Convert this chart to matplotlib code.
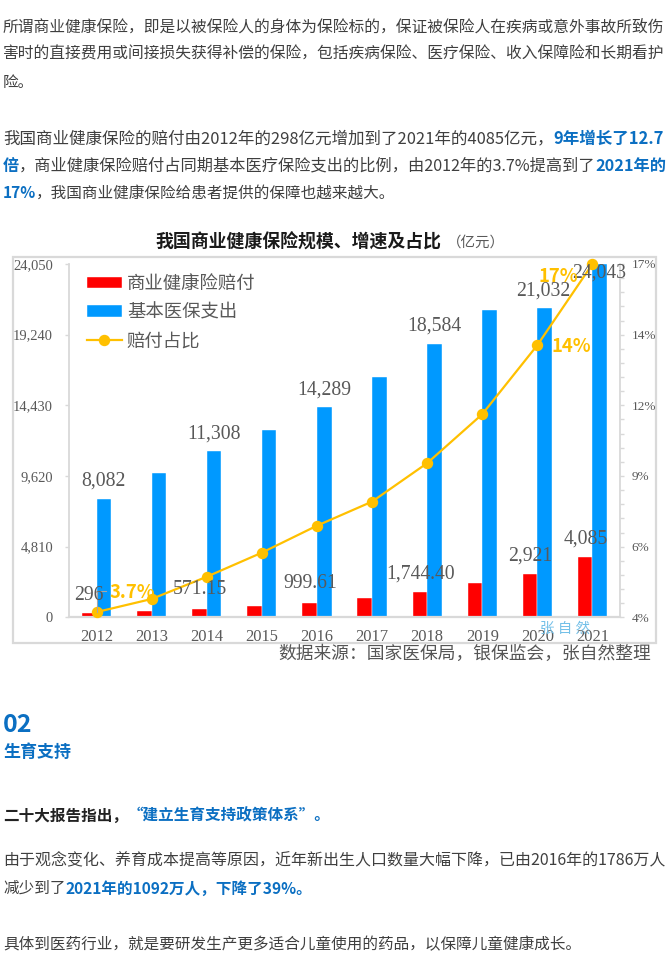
import matplotlib
matplotlib.use('Agg')
import matplotlib.pyplot as plt
from matplotlib.patches import Rectangle
import numpy as np

plt.rcParams['font.family'] = ['Noto Sans CJK SC', 'DejaVu Sans']

W, H = 667, 973
years = ['2012', '2013', '2014', '2015', '2016', '2017', '2018', '2019', '2020', '2021']
payout = [298, 456, 571.15, 763, 999.61, 1294, 1744.40, 2351, 2921, 4085]
spending = [8082, 9800, 11308, 12740, 14289, 16390, 18584, 20890, 21032, 24043]
share = [3.7, 4.2, 5.05, 5.97, 7.0, 7.92, 9.39, 11.26, 13.9, 17.0]
left_ticks = [0, 4810, 9620, 14430, 19240, 24050]
left_labels = ['0', '4,810', '9,620', '14,430', '19,240', '24,050']
right_ticks = [3.5, 6.2, 8.9, 11.6, 14.3, 17.0]
right_labels = ['4%', '6%', '9%', '12%', '14%', '17%']

GRAY = '#595959'
FRAME = '#d9d9d9'
RED = '#ff0000'
BLUE = '#0099ff'
GOLD = '#ffc000'
TEXT = '#3f3f3f'
LINK = '#0b6fc2'
SERIF = ['Liberation Serif', 'Noto Sans CJK SC']


def px(size):
    return size * 0.72


fig = plt.figure(figsize=(W / 100, H / 100), dpi=100, facecolor='white')

# text and frame live on a pixel-sized overlay
page = fig.add_axes([0, 0, 1, 1], zorder=0)
page.set_xlim(0, W)
page.set_ylim(H, 0)
page.axis('off')
page.add_patch(Rectangle((13, 257), 643, 386, fc='white', ec=FRAME, lw=1.6))

ax = fig.add_axes([69 / W, (H - 617.3) / H, 551 / W, 353.3 / H], zorder=1)
ax.patch.set_alpha(0)
x = np.arange(len(years))
bar_w = 0.265
red_bars = ax.bar(x - bar_w / 2, payout, bar_w, color=RED, edgecolor='white', linewidth=0.3, label='商业健康险赔付')
blue_bars = ax.bar(x + bar_w / 2, spending, bar_w, color=BLUE, edgecolor='white', linewidth=0.3, label='基本医保支出')
ax.set_xlim(-0.5, 9.5)
ax.set_ylim(0, 24050)
ax.set_xticks(x)
ax.set_xticklabels(years, family=SERIF, fontsize=px(16.5), color=GRAY)
ax.set_yticks(left_ticks)
ax.set_yticklabels(left_labels, family=SERIF, fontsize=px(14.5), color=GRAY)
ax.tick_params(axis='x', length=0, pad=8.5)
ax.tick_params(axis='y', length=2.9, width=1, color=FRAME, pad=8.6)
ax.spines['top'].set_visible(False)
ax.spines['right'].set_visible(False)
ax.spines['left'].set_color(FRAME)
ax.spines['bottom'].set_color(FRAME)
ax.spines['left'].set_linewidth(1.3)
ax.spines['bottom'].set_linewidth(1.6)

ax2 = ax.twinx()
ax2.patch.set_alpha(0)
share_line, = ax2.plot(x, share, color=GOLD, lw=1.6, marker='o', ms=7.2, label='赔付占比', clip_on=False)
ax2.set_ylim(3.5, 17)
ax2.set_yticks(right_ticks)
ax2.set_yticklabels(right_labels, family=SERIF, fontsize=px(13.2), color=GRAY)
ax2.set_yticks(np.linspace(3.5, 17, 26), minor=True)
ax2.tick_params(axis='y', which='both', length=3, width=1, color=FRAME, pad=5.5)
for name in ['top', 'left', 'bottom']:
    ax2.spines[name].set_visible(False)
ax2.spines['right'].set_color(FRAME)
ax2.spines['right'].set_linewidth(1.3)

leg = ax2.legend(handles=[red_bars, blue_bars, share_line], loc='upper left',
                 bbox_to_anchor=(87 / W, (H - 275) / H), bbox_transform=fig.transFigure,
                 frameon=False, borderpad=0, borderaxespad=0, handlelength=1.9, handleheight=0.6,
                 handletextpad=0.27, labelspacing=0.58, prop={'size': px(18.4)}, labelcolor=GRAY)

# overlay on top of the chart for labels
top = fig.add_axes([0, 0, 1, 1], zorder=2)
top.set_xlim(0, W)
top.set_ylim(H, 0)
top.axis('off')

value_labels = [('296', 89, 595), ('8,082', 103, 481.5), ('11,308', 214, 434), ('14,289', 324, 390.5),
                ('18,584', 434, 326.5), ('21,032', 543, 291.5), ('24,043', 599, 273), ('571.15', 200, 590),
                ('999.61', 310, 584), ('1,744.40', 420.5, 574), ('2,921', 530, 556.5), ('4,085', 585.5, 539)]
for label, lx, ly in value_labels:
    top.text(lx, ly, label, family=SERIF, fontsize=px(19.8), color=GRAY, ha='center', va='center')
top.plot([97, 97, 106], [612, 590.5, 590.5], color='#a6a6a6', lw=0.8)

pct_labels = [('3.7%', 132.5, 592.5), ('17%', 558, 276.5), ('14%', 571.5, 347)]
for label, lx, ly in pct_labels:
    top.text(lx, ly, label, fontsize=px(18.5), fontweight='bold', color=GOLD, ha='center', va='center')

top.text(565, 629, '张 自 然', fontsize=px(14.5), color='#74c0e8', ha='center', va='center')
top.text(155, 242.5, '我国商业健康保险规模、增速及占比', fontsize=px(17.9), fontweight='bold', color='#1a1a1a', va='center')
top.text(476, 242.5, '（亿元）', fontsize=px(14.5), color=GRAY, ha='center', va='center')
top.text(278, 654, '数据来源：国家医保局，银保监会，张自然整理', fontsize=px(17.75), color='#555555', va='center')

renderer = fig.canvas.get_renderer()


def advance(text, size, weight):
    # trailing bar keeps the advance of punctuation at the end of a run
    probe = top.text(0, 0, text + '|', fontsize=px(size), fontweight=weight)
    bar = top.text(0, 0, '|', fontsize=px(size), fontweight=weight)
    width = probe.get_window_extent(renderer).width - bar.get_window_extent(renderer).width
    probe.remove()
    bar.remove()
    return width


def runs(y, parts, size=15.6, start=3, end=None):
    # the article text is justified, so full lines are scaled to reach the right edge
    if end is not None:
        natural = sum(advance(t, size, w) for t, c, w in parts)
        size = size * (end - start) / natural
    cur = start
    for text, color, weight in parts:
        top.text(cur, y + 1.5, text, fontsize=px(size), color=color, fontweight=weight, va='center', ha='left')
        cur += advance(text, size, weight)


runs(25.5, [('所谓商业健康保险，即是以被保险人的身体为保险标的，保证被保险人在疾病或意外事故所致伤', TEXT, 'normal')], end=665)
runs(52, [('害时的直接费用或间接损失获得补偿的保险，包括疾病保险、医疗保险、收入保障险和长期看护', TEXT, 'normal')], end=665)
runs(80.5, [('险。', TEXT, 'normal')])
runs(137, [('我国商业健康保险的赔付由2012年的298亿元增加到了2021年的4085亿元，', TEXT, 'normal'),
           ('9年增长了12.7', LINK, 'bold')], end=665)
runs(164, [('倍', LINK, 'bold'), ('，商业健康保险赔付占同期基本医疗保险支出的比例，由2012年的3.7%提高到了', TEXT, 'normal'),
           ('2021年的', LINK, 'bold')], end=665)
runs(192, [('17%', LINK, 'bold'), ('，我国商业健康保险给患者提供的保障也越来越大。', TEXT, 'normal')])

runs(723.5, [('02', LINK, 'bold')], size=25)
runs(750.5, [('生育支持', LINK, 'bold')], size=17)
runs(814, [('二十大报告指出，', '#222222', 'bold'), ('“建立生育支持政策体系”。', LINK, 'bold')])
runs(859, [('由于观念变化、养育成本提高等原因，近年新出生人口数量大幅下降，已由2016年的1786万人', TEXT, 'normal')], end=665)
runs(887, [('减少到了', TEXT, 'normal'), ('2021年的1092万人，下降了39%。', LINK, 'bold')])
runs(943, [('具体到医药行业，就是要研发生产更多适合儿童使用的药品，以保障儿童健康成长。', TEXT, 'normal')])

fig.savefig('out.png', dpi=100, facecolor='white')
